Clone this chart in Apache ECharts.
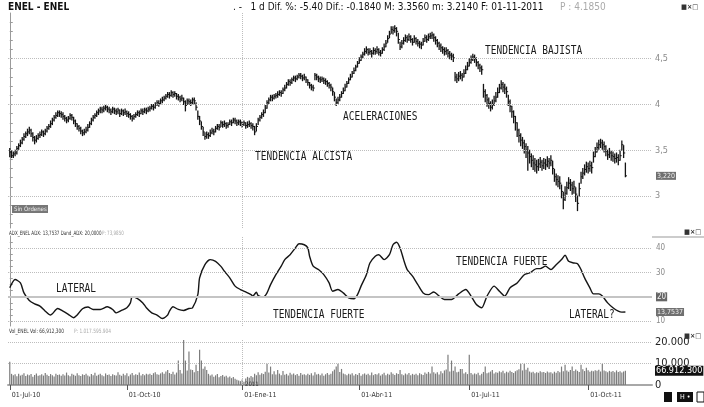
<!DOCTYPE html>
<html>
<head>
<meta charset="utf-8">
<script src="https://cdn.jsdelivr.net/npm/echarts@6/dist/echarts.min.js"></script>
<style>
html, body { margin: 0; padding: 0; background: #fff; }
#chart { width: 704px; height: 407px; }
</style>
</head>
<body>
<div id="chart"></div>
<script>
/* ENEL daily bars, 01-Jul-10 .. 01-Nov-11 (one entry per session) */
var dateLabels = ['01-Jul-10', '01-Oct-10', '01-Ene-11', '01-Abr-11', '01-Jul-11', '01-Oct-11'];
var dateDays = [0, 66, 131, 197, 259, 326];

var closes = [
 3.48,3.44,3.46,3.47,3.52,3.55,3.58,3.62,3.65,3.68,
 3.70,3.72,3.68,3.64,3.61,3.63,3.66,3.67,3.70,3.68,
 3.71,3.74,3.76,3.79,3.83,3.86,3.88,3.91,3.90,3.89,
 3.87,3.85,3.83,3.85,3.88,3.86,3.82,3.79,3.76,3.74,
 3.71,3.69,3.70,3.72,3.75,3.79,3.83,3.86,3.88,3.91,
 3.93,3.95,3.94,3.96,3.97,3.95,3.94,3.92,3.95,3.93,
 3.92,3.94,3.90,3.93,3.91,3.92,3.90,3.89,3.87,3.85,
 3.87,3.89,3.91,3.90,3.93,3.92,3.94,3.93,3.95,3.96,
 3.98,3.97,4.00,4.02,4.01,4.04,4.05,4.07,4.09,4.11,
 4.10,4.13,4.11,4.12,4.09,4.08,4.06,4.07,4.03,3.99,
 4.04,4.03,4.02,4.05,4.04,3.97,3.87,3.82,3.76,3.70,
 3.65,3.67,3.66,3.69,3.71,3.70,3.74,3.76,3.75,3.80,
 3.78,3.79,3.77,3.78,3.81,3.80,3.83,3.82,3.80,3.81,
 3.80,3.78,3.80,3.77,3.78,3.79,3.77,3.76,3.70,3.76,
 3.83,3.86,3.89,3.91,3.96,4.02,4.05,4.08,4.07,4.09,
 4.10,4.11,4.13,4.12,4.16,4.18,4.22,4.25,4.24,4.27,
 4.29,4.28,4.30,4.32,4.31,4.29,4.30,4.27,4.24,4.21,
 4.19,4.18,4.32,4.30,4.28,4.27,4.28,4.26,4.25,4.23,
 4.21,4.19,4.14,4.08,4.02,4.05,4.08,4.12,4.15,4.19,
 4.23,4.27,4.30,4.34,4.37,4.41,4.45,4.48,4.52,4.55,
 4.58,4.60,4.57,4.58,4.56,4.59,4.58,4.60,4.57,4.56,
 4.60,4.63,4.67,4.72,4.77,4.82,4.81,4.83,4.80,4.71,
 4.63,4.67,4.70,4.73,4.71,4.74,4.71,4.68,4.72,4.69,
 4.67,4.66,4.65,4.69,4.73,4.71,4.74,4.75,4.76,4.73,
 4.70,4.67,4.64,4.62,4.60,4.58,4.59,4.56,4.54,4.53,
 4.51,4.30,4.28,4.31,4.32,4.30,4.34,4.38,4.42,4.46,
 4.49,4.52,4.50,4.46,4.43,4.40,4.38,4.14,4.10,4.05,
 4.01,3.97,4.00,4.04,4.08,4.13,4.18,4.22,4.19,4.17,
 4.14,4.03,3.98,3.92,3.87,3.80,3.72,3.66,3.61,3.58,
 3.54,3.50,3.47,3.43,3.39,3.36,3.34,3.32,3.35,3.37,
 3.33,3.36,3.34,3.38,3.36,3.39,3.30,3.21,3.18,3.16,
 3.14,3.05,2.96,3.03,3.09,3.14,3.12,3.08,3.10,3.02,
 2.92,3.08,3.21,3.25,3.29,3.32,3.30,3.33,3.31,3.43,
 3.48,3.53,3.56,3.58,3.56,3.54,3.49,3.45,3.47,3.44,
 3.43,3.41,3.42,3.39,3.44,3.56,3.47,3.22
];
var highs = [
 3.52,3.49,3.48,3.50,3.54,3.57,3.61,3.64,3.68,3.70,
 3.73,3.75,3.73,3.69,3.65,3.66,3.68,3.70,3.72,3.71,
 3.73,3.76,3.78,3.82,3.85,3.88,3.91,3.93,3.93,3.92,
 3.91,3.88,3.86,3.87,3.90,3.89,3.86,3.83,3.79,3.77,
 3.75,3.72,3.73,3.75,3.78,3.81,3.85,3.88,3.90,3.93,
 3.95,3.97,3.97,3.98,3.99,3.98,3.97,3.95,3.97,3.96,
 3.95,3.96,3.94,3.95,3.94,3.95,3.93,3.92,3.90,3.88,
 3.89,3.91,3.93,3.93,3.95,3.95,3.96,3.96,3.97,3.98,
 4.00,4.00,4.02,4.04,4.04,4.06,4.08,4.09,4.11,4.13,
 4.13,4.15,4.14,4.14,4.12,4.11,4.09,4.10,4.07,4.04,
 4.06,4.06,4.05,4.07,4.07,4.02,3.93,3.87,3.81,3.75,
 3.69,3.70,3.69,3.72,3.74,3.73,3.76,3.78,3.78,3.82,
 3.81,3.82,3.80,3.80,3.83,3.83,3.85,3.85,3.83,3.83,
 3.83,3.81,3.82,3.80,3.81,3.82,3.80,3.79,3.76,3.79,
 3.85,3.88,3.91,3.94,3.99,4.04,4.07,4.10,4.10,4.11,
 4.12,4.14,4.15,4.15,4.18,4.21,4.24,4.27,4.27,4.29,
 4.31,4.31,4.32,4.34,4.34,4.32,4.33,4.30,4.27,4.24,
 4.22,4.21,4.34,4.33,4.31,4.30,4.30,4.29,4.28,4.26,
 4.24,4.22,4.18,4.13,4.06,4.08,4.11,4.14,4.18,4.22,
 4.25,4.29,4.33,4.36,4.40,4.43,4.47,4.51,4.54,4.57,
 4.61,4.63,4.61,4.61,4.59,4.62,4.61,4.63,4.61,4.59,
 4.62,4.66,4.70,4.75,4.80,4.85,4.85,4.86,4.84,4.78,
 4.68,4.70,4.73,4.76,4.75,4.77,4.75,4.72,4.75,4.73,
 4.71,4.69,4.68,4.72,4.76,4.75,4.77,4.78,4.79,4.77,
 4.74,4.71,4.68,4.66,4.63,4.62,4.62,4.60,4.58,4.56,
 4.55,4.35,4.33,4.35,4.36,4.34,4.38,4.42,4.46,4.50,
 4.53,4.55,4.54,4.51,4.47,4.44,4.42,4.22,4.16,4.11,
 4.07,4.03,4.05,4.09,4.13,4.18,4.22,4.26,4.24,4.22,
 4.19,4.10,4.05,3.98,3.93,3.87,3.80,3.73,3.68,3.64,
 3.61,3.57,3.54,3.50,3.46,3.44,3.41,3.39,3.40,3.42,
 3.39,3.41,3.40,3.43,3.41,3.44,3.38,3.29,3.24,3.22,
 3.21,3.12,3.04,3.10,3.15,3.20,3.18,3.15,3.16,3.09,
 3.00,3.14,3.26,3.30,3.34,3.37,3.36,3.38,3.37,3.48,
 3.53,3.58,3.61,3.62,3.61,3.59,3.55,3.50,3.52,3.49,
 3.48,3.46,3.47,3.45,3.50,3.60,3.55,3.36
];
var lows = [
 3.43,3.42,3.42,3.44,3.46,3.51,3.54,3.57,3.61,3.64,
 3.66,3.68,3.65,3.60,3.57,3.59,3.62,3.64,3.66,3.65,
 3.67,3.70,3.73,3.75,3.78,3.82,3.85,3.87,3.87,3.86,
 3.84,3.82,3.80,3.81,3.84,3.83,3.79,3.76,3.73,3.71,
 3.68,3.66,3.67,3.69,3.71,3.75,3.78,3.82,3.85,3.87,
 3.89,3.91,3.91,3.92,3.94,3.92,3.91,3.89,3.91,3.90,
 3.89,3.90,3.87,3.89,3.88,3.89,3.87,3.86,3.84,3.82,
 3.84,3.86,3.88,3.87,3.90,3.89,3.91,3.90,3.92,3.93,
 3.95,3.94,3.96,3.99,3.98,4.00,4.02,4.04,4.06,4.08,
 4.07,4.09,4.08,4.09,4.06,4.05,4.03,4.04,4.00,3.93,
 4.00,4.00,3.99,4.01,4.00,3.94,3.84,3.78,3.73,3.66,
 3.62,3.63,3.63,3.65,3.68,3.67,3.70,3.73,3.72,3.76,
 3.75,3.76,3.74,3.75,3.78,3.77,3.80,3.79,3.77,3.78,
 3.77,3.75,3.77,3.74,3.75,3.76,3.74,3.72,3.67,3.71,
 3.78,3.82,3.85,3.87,3.91,3.96,4.01,4.04,4.04,4.06,
 4.07,4.08,4.10,4.09,4.12,4.15,4.18,4.21,4.21,4.23,
 4.26,4.25,4.27,4.29,4.28,4.26,4.27,4.24,4.21,4.18,
 4.16,4.15,4.27,4.27,4.25,4.24,4.25,4.23,4.22,4.20,
 4.18,4.15,4.10,4.04,3.99,4.01,4.04,4.08,4.12,4.15,
 4.19,4.23,4.27,4.30,4.34,4.37,4.41,4.45,4.48,4.51,
 4.54,4.56,4.54,4.55,4.52,4.55,4.55,4.56,4.54,4.53,
 4.56,4.59,4.63,4.68,4.73,4.78,4.77,4.79,4.75,4.67,
 4.60,4.62,4.66,4.69,4.68,4.70,4.68,4.65,4.68,4.66,
 4.64,4.62,4.61,4.65,4.69,4.68,4.70,4.72,4.72,4.69,
 4.66,4.63,4.60,4.58,4.56,4.54,4.55,4.52,4.50,4.49,
 4.47,4.26,4.24,4.26,4.28,4.26,4.30,4.34,4.38,4.42,
 4.45,4.48,4.46,4.42,4.39,4.36,4.33,4.08,4.03,3.98,
 3.96,3.93,3.95,3.99,4.03,4.08,4.13,4.17,4.14,4.12,
 4.08,3.99,3.92,3.86,3.80,3.72,3.65,3.59,3.55,3.52,
 3.47,3.42,3.28,3.36,3.32,3.29,3.27,3.25,3.28,3.31,
 3.28,3.30,3.29,3.32,3.30,3.33,3.24,3.16,3.12,3.10,
 3.08,2.98,2.86,2.95,3.02,3.08,3.06,3.02,3.03,2.94,
 2.84,3.00,3.14,3.19,3.23,3.26,3.25,3.27,3.25,3.37,
 3.43,3.48,3.51,3.53,3.51,3.48,3.44,3.40,3.42,3.39,
 3.38,3.36,3.37,3.34,3.39,3.50,3.42,3.21
];

/* ADX(14) */
var adxDays = [0,3,6,8,11,14,17,20,23,24,27,30,33,36,38,41,44,47,51,55,58,60,63,66,68,69,72,75,77,80,
 83,86,89,90,92,95,98,101,103,106,107,110,113,116,119,121,124,127,130,133,136,137,139,140,143,145,147,150,153,155,
 158,161,163,166,168,169,171,174,177,180,182,185,188,191,194,196,198,201,203,206,208,211,214,216,218,220,222,224,227,230,
 233,236,239,242,245,249,253,257,260,263,266,269,273,276,279,282,286,290,293,297,299,302,305,308,311,313,315,318,320,322,
 324,327,329,332,334,337,340,343,345,347];
var adxValues = [23.7,27.1,25.7,21.6,18.5,17.1,16.2,14.1,12.5,13.0,15.2,14.1,12.8,11.4,12.5,15.1,15.8,14.8,14.8,15.9,
 14.8,13.4,14.4,15.5,17.5,19.9,19.3,17.5,15.5,13.4,12.5,11.1,12.5,14.1,15.9,14.8,14.4,15.2,15.5,20.9,
 27.8,33.2,35.3,34.6,32.5,30.5,27.8,24.4,23.0,22.0,20.9,20.3,21.9,20.5,19.9,21.6,25.0,29.1,32.6,35.3,
 37.3,40.1,41.8,41.4,40.1,36.7,32.6,31.2,29.1,25.7,22.3,23.0,21.6,19.6,19.2,20.9,24.4,29.1,33.9,36.7,
 37.3,35.3,37.3,41.4,42.4,40.1,35.3,31.2,28.5,25.0,21.6,20.9,22.0,20.3,18.9,18.9,21.2,23.0,20.3,16.8,
 15.5,20.3,24.4,22.3,20.3,23.7,25.7,29.1,29.8,31.6,31.6,32.6,31.2,33.2,35.3,37.1,34.6,33.9,33.6,31.2,
 27.8,23.7,21.2,21.2,20.3,17.5,15.5,14.1,13.7,13.75];

/* volume, in axis units (10 = "10.000") */
var volumes = [
 10.9,5.2,4.6,5.0,4.1,5.3,4.4,4.8,5.5,4.2,
 4.9,4.5,5.1,3.9,4.7,5.4,4.3,4.6,5.0,4.4,
 5.6,4.8,4.2,5.1,4.5,4.0,5.3,4.7,4.9,4.3,
 5.0,4.4,5.8,4.6,4.1,5.2,4.8,4.3,5.5,4.6,
 4.2,5.0,4.7,5.3,4.4,4.0,5.1,4.6,5.7,4.3,
 4.8,5.2,4.5,4.1,5.4,4.7,4.9,4.2,5.0,4.6,
 4.4,5.9,4.8,4.3,5.2,4.6,5.5,4.1,4.9,5.6,
 4.5,5.0,4.7,5.8,4.4,5.1,4.6,5.3,4.9,5.2,
 4.7,5.5,6.0,5.0,4.8,5.4,5.9,5.2,6.3,7.0,
 5.6,5.1,6.2,4.9,5.8,11.4,7.0,5.4,21.0,11.4,
 6.8,15.6,7.2,7.0,5.9,9.4,6.5,16.4,11.4,7.6,
 8.6,7.0,5.2,4.4,4.9,3.8,4.5,5.1,3.6,4.2,
 4.7,3.9,4.3,3.5,4.0,3.2,3.7,2.9,2.5,2.1,
 1.8,2.6,1.5,3.0,3.8,3.4,4.2,3.6,5.3,4.5,
 6.0,4.8,5.5,5.1,6.2,9.9,5.8,8.6,5.0,6.4,
 4.9,7.0,5.3,4.6,6.5,4.8,5.2,4.4,5.7,4.9,
 5.4,4.6,5.1,4.3,5.6,4.8,5.0,4.5,5.3,4.7,
 5.5,4.4,5.9,4.9,5.2,4.6,5.4,4.3,5.0,5.6,
 4.8,5.3,6.4,7.2,8.6,9.9,6.1,7.5,5.4,5.0,
 4.6,5.2,4.9,5.5,4.4,5.1,4.7,5.6,4.3,5.0,
 5.4,4.8,5.2,4.5,5.8,4.6,5.1,4.9,5.5,4.4,
 5.0,5.7,4.6,5.3,4.8,5.9,5.2,4.7,5.5,5.1,
 7.0,5.0,4.6,5.4,4.9,5.6,4.5,5.2,4.8,5.3,
 4.6,5.5,5.0,4.7,5.8,5.2,6.1,5.4,8.6,6.0,
 5.3,5.9,4.9,6.4,5.5,6.8,7.2,14.1,6.3,11.4,
 6.7,8.6,5.9,6.2,7.5,7.5,5.4,6.0,5.1,14.1,
 5.6,4.9,5.4,5.0,5.7,4.6,5.3,6.1,8.6,5.5,
 5.8,6.3,7.0,5.4,6.0,5.7,6.4,5.9,6.6,5.5,
 6.2,5.8,6.7,6.1,5.6,6.4,6.9,7.3,9.9,6.8,
 9.9,7.1,8.0,6.3,5.8,6.2,5.5,6.0,5.7,6.4,
 5.9,6.1,5.6,6.3,5.8,6.0,5.4,6.2,5.7,6.5,
 6.0,8.6,6.4,9.4,6.8,6.2,7.0,8.6,6.5,7.2,
 6.6,6.1,9.4,7.3,6.5,8.0,6.9,6.2,6.7,6.4,
 6.9,6.6,7.1,6.3,9.9,6.8,6.4,6.0,6.6,6.2,
 6.5,5.9,6.8,6.1,6.4,5.8,6.3,6.69
];

var priceLabels = [3, 3.5, 4, 4.5];
var priceTicks = [2.7,2.8,2.9,3,3.1,3.2,3.3,3.4,3.5,3.6,3.7,3.8,3.9,4,4.1,4.2,4.3,4.4,4.5,4.6,4.7,4.8,4.9];
var adxLabels = [10, 30, 40];
var adxTicks = [10,12.5,15,17.5,20,22.5,25,27.5,30,32.5,35,37.5,40,42.5];
var volLabels = [0, 10, 20];

var lastClose = 3.22;
var lastAdx = 13.7537;
var lastVol = 6.69;
var yearDay = 131;

var chart = echarts.init(document.getElementById('chart'));

var dotted = { type: 'dotted', color: '#bdbdbd', width: 1 };
var hidden = { color: 'transparent', width: 1 };
var boxLabel = function (txt, bg, fg, size, dist) {
    return { show: true, position: 'end', distance: dist || 4, formatter: txt, backgroundColor: bg, color: fg,
        fontSize: size, padding: [1, 1, 0, 1], fontFamily: 'DejaVu Sans Condensed, sans-serif' };
};
function gridLines(vals) {
    var out = [];
    for (var i = 0; i < vals.length; ++i) out.push({ yAxis: vals[i], lineStyle: dotted });
    out.push({ xAxis: yearDay, lineStyle: dotted });
    return out;
}

function renderBar(params, api) {
    var x = api.value(0);
    var lo = api.coord([x, api.value(1)]);
    var hi = api.coord([x, api.value(2)]);
    var cl = api.coord([x, api.value(3)]);
    return {
        type: 'group',
        children: [
            { type: 'line', shape: { x1: lo[0], y1: lo[1] + 0.5, x2: hi[0], y2: hi[1] - 0.5 }, style: { stroke: '#141414', lineWidth: 1.3 } },
            { type: 'line', shape: { x1: cl[0], y1: cl[1], x2: cl[0] + 1.6, y2: cl[1] }, style: { stroke: '#141414', lineWidth: 1 } }
        ]
    };
}

var priceData = [];
for (var i = 0; i < closes.length; ++i) priceData.push([i, lows[i], highs[i], closes[i]]);
var adxData = [];
for (var j = 0; j < adxDays.length; ++j) adxData.push([adxDays[j], adxValues[j]]);
var volData = [];
for (var k = 0; k < volumes.length; ++k) volData.push([k, volumes[k]]);

var monoFont = '"DejaVu Sans Mono", monospace';
var condFont = '"DejaVu Sans Condensed", "DejaVu Sans", sans-serif';
function note(txt, x, y) {
    return { type: 'text', x: x, y: y, scaleY: 1.25, z: 20,
        style: { text: txt, fill: '#1a1a1a', font: '9.5px ' + monoFont, textVerticalAlign: 'middle', verticalAlign: 'middle' } };
}
function small(txt, x, y, color, size, sx) {
    return { type: 'text', x: x, y: y, z: 20, scaleX: sx || 1,
        style: { text: txt, fill: color, font: size + 'px ' + condFont, textVerticalAlign: 'middle', verticalAlign: 'middle' } };
}
function winIcon(x, y) {
    return { type: 'text', x: x, y: y, z: 20,
        style: { text: '\u25A0\u00D7\u25A1', fill: '#333', font: 'bold 7px ' + condFont, textVerticalAlign: 'middle', verticalAlign: 'middle' } };
}

var option = {
    backgroundColor: '#ffffff',
    animation: false,
    grid: [
        { left: 8, right: 52, top: 13, height: 215 },
        { left: 8, right: 52, top: 236, height: 90 },
        { left: 8, right: 52, top: 340, height: 45 }
    ],
    xAxis: [
        { type: 'value', gridIndex: 0, min: -1, max: 362, show: false },
        { type: 'value', gridIndex: 1, min: -1, max: 362, show: false },
        {
            type: 'value', gridIndex: 2, min: -1, max: 362, offset: 4,
            axisLine: { show: true, lineStyle: { color: '#a8a8a8', width: 2 } },
            axisTick: { show: true, customValues: dateDays, length: 5, lineStyle: { color: '#555' } },
            axisLabel: {
                customValues: dateDays, align: 'left', fontSize: 7, color: '#333', margin: 3,
                fontFamily: 'DejaVu Sans Condensed, sans-serif', padding: [0, 0, 0, 2],
                formatter: function (v) { return dateLabels[dateDays.indexOf(v)]; }
            },
            splitLine: { show: false }
        }
    ],
    yAxis: [
        {
            type: 'value', gridIndex: 0, position: 'right', min: 2.65, max: 5.0,
            axisLine: { show: true, lineStyle: { color: '#9a9a9a' } },
            axisTick: { show: true, customValues: priceTicks, length: 3, lineStyle: { color: '#9a9a9a' } },
            axisLabel: {
                customValues: priceLabels, fontSize: 9, color: '#8a8a8a', margin: 3,
                fontFamily: 'DejaVu Sans Condensed, sans-serif',
                formatter: function (v) { return String(v).replace('.', ','); }
            },
            splitLine: { show: false }
        },
        {
            type: 'value', gridIndex: 1, position: 'right', min: 8, max: 45,
            axisLine: { show: true, lineStyle: { color: '#9a9a9a' } },
            axisTick: { show: true, customValues: adxTicks, length: 3, lineStyle: { color: '#9a9a9a' } },
            axisLabel: {
                customValues: adxLabels, fontSize: 8, color: '#8a8a8a', margin: 4,
                fontFamily: 'DejaVu Sans Condensed, sans-serif'
            },
            splitLine: { show: false }
        },
        {
            type: 'value', gridIndex: 2, position: 'right', min: 0, max: 21,
            axisLine: { show: false },
            axisTick: { show: false },
            axisLabel: {
                customValues: volLabels, fontSize: 11, color: '#222', margin: 3,
                fontFamily: 'DejaVu Sans Condensed, sans-serif',
                formatter: function (v) { return v === 0 ? '0' : v + '.000'; }
            },
            splitLine: { show: false }
        }
    ],
    series: [
        {
            type: 'custom', name: 'ENEL', xAxisIndex: 0, yAxisIndex: 0,
            renderItem: renderBar, data: priceData, encode: { x: 0, y: [1, 2, 3] }, silent: true,
            markLine: {
                silent: true, symbol: 'none', animation: false, label: { show: false },
                data: gridLines(priceLabels).concat([
                    { yAxis: lastClose, lineStyle: hidden, label: boxLabel('3,220', '#707070', '#eeeeee', 7) }
                ])
            }
        },
        {
            type: 'line', name: 'ADX', xAxisIndex: 1, yAxisIndex: 1, data: adxData,
            showSymbol: false, smooth: 0.25, silent: true,
            lineStyle: { color: '#151515', width: 1.4 },
            markLine: {
                silent: true, symbol: 'none', animation: false, label: { show: false },
                data: gridLines(adxLabels).concat([
                    { yAxis: 20, lineStyle: { type: 'solid', color: '#c4c4c4', width: 2 }, label: boxLabel('20', '#666666', '#f2f2f2', 8) },
                    { yAxis: lastAdx, lineStyle: hidden, label: boxLabel('13,7537', '#707070', '#eeeeee', 7) }
                ])
            }
        },
        {
            type: 'bar', name: 'Vol', xAxisIndex: 2, yAxisIndex: 2, data: volData,
            barWidth: 1.2, silent: true, itemStyle: { color: '#7c7c7c' },
            markLine: {
                silent: true, symbol: 'none', animation: false, label: { show: false },
                data: gridLines([10, 20]).concat([
                    { yAxis: lastVol, lineStyle: hidden, label: boxLabel('66.912.300', '#111111', '#ffffff', 9, 3) }
                ])
            }
        }
    ],
    graphic: [
        { type: 'text', x: 8, y: 7, z: 20, style: { text: 'ENEL - ENEL', fill: '#111', font: 'bold 10px ' + condFont, textVerticalAlign: 'middle', verticalAlign: 'middle' } },
        { type: 'text', x: 233, y: 7, z: 20, style: { text: '. -   1 d Dif. %: -5.40 Dif.: -0.1840 M: 3.3560 m: 3.2140 F: 01-11-2011', fill: '#111', font: '10px ' + condFont, textVerticalAlign: 'middle', verticalAlign: 'middle' } },
        small('P : 4.1850', 560, 7, '#aaaaaa', 10),
        winIcon(681, 7),
        winIcon(684, 232),
        winIcon(684, 336),
        small('ADX_ENEL ADX: 13,7537 Dand_ADX: 20,0000', 9, 233, '#333', 6, 0.75),
        small('P: 73,9850', 102, 233, '#aaaaaa', 6, 0.75),
        small('Vol_ENEL Vol: 66,912,300', 9, 331, '#333', 6, 0.8),
        small('P: 1.017.595.904', 74, 331, '#aaaaaa', 6, 0.8),
        { type: 'rect', shape: { x: 12, y: 205, width: 36, height: 8 }, style: { fill: '#777' }, z: 19 },
        small('Sin \u00D3rdenes', 14, 209, '#eeeeee', 6),
        small('2011', 245, 384, '#333', 6),
        { type: 'line', shape: { x1: 652, y1: 237, x2: 704, y2: 237 }, style: { stroke: '#999', lineWidth: 1 }, z: 19 },
        { type: 'rect', shape: { x: 664, y: 392, width: 8, height: 10 }, style: { fill: '#111' }, z: 19 },
        { type: 'rect', shape: { x: 677, y: 392, width: 16, height: 10 }, style: { fill: '#111' }, z: 19 },
        small('H \u2022', 680, 397, '#fff', 7),
        { type: 'rect', shape: { x: 697, y: 392, width: 7, height: 10 }, style: { fill: '#fff', stroke: '#111', lineWidth: 1 }, z: 19 },
        note('TENDENCIA ALCISTA', 255, 157),
        note('ACELERACIONES', 343, 117),
        note('TENDENCIA BAJISTA', 485, 51),
        note('LATERAL', 56, 289),
        note('TENDENCIA FUERTE', 273, 315),
        note('TENDENCIA FUERTE', 456, 262),
        note('LATERAL?', 569, 315)
    ]
};

chart.setOption(option);
</script>
</body>
</html>
